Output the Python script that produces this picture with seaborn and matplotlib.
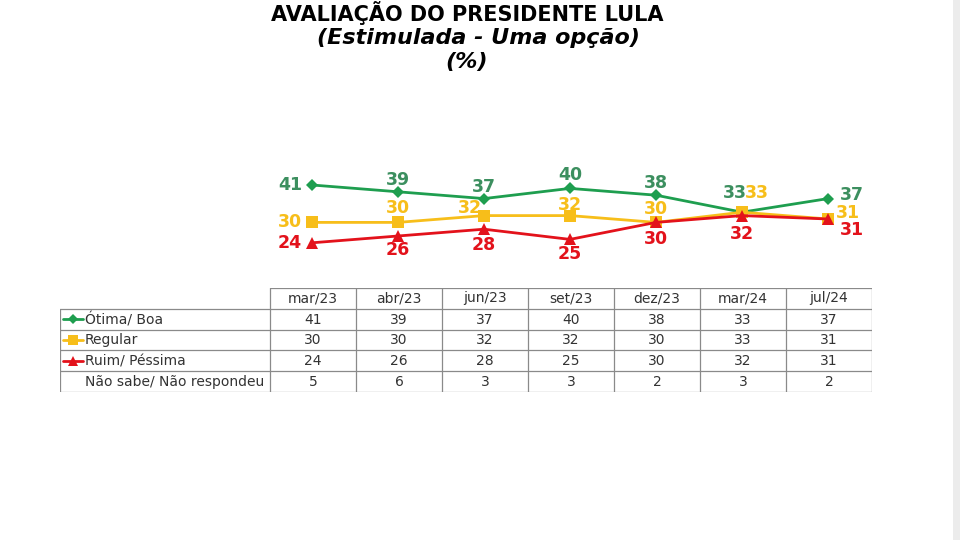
import matplotlib
matplotlib.use("Agg")
import matplotlib.pyplot as plt
import seaborn as sns
import pandas as pd
from matplotlib.patches import Rectangle

sns.set_theme(style="white")
plt.rcParams['font.family'] = ['DejaVu Sans']

months = ["mar/23", "abr/23", "jun/23", "set/23", "dez/23", "mar/24", "jul/24"]
otima_boa = [41, 39, 37, 40, 38, 33, 37]
regular = [30, 30, 32, 32, 30, 33, 31]
ruim_pessima = [24, 26, 28, 25, 30, 32, 31]
nao_sabe = [5, 6, 3, 3, 2, 3, 2]

series_names = ["Ótima/ Boa", "Regular", "Ruim/ Péssima"]
row_labels = ["Ótima/ Boa", "Regular", "Ruim/ Péssima", "Não sabe/ Não respondeu"]

GREEN = "#1E9E4F"
GREEN_TXT = "#3C8F5F"
YELLOW = "#F7BE1A"
RED = "#E3121B"
colors = [GREEN, YELLOW, RED]
txt_colors = [GREEN_TXT, YELLOW, RED]
markers = ["D", "s", "^"]
msizes = [6, 8, 8]

# label offsets in pixels (dx, dy), per series and point
label_offsets = [
    [(-22, 0), (0, 12), (0, 12), (0, 13), (0, 12), (-7, 19), (24, 4)],
    [(-22, 0), (0, 14), (-14, 8), (0, 11), (0, 13), (15, 19), (20, 6)],
    [(-22, 0), (0, -14), (0, -16), (0, -15), (0, -17), (0, -18), (24, -11)],
]

W, H = 960, 540
fig = plt.figure(figsize=(9.6, 5.4), dpi=100)
fig.patch.set_facecolor("white")

def fbox(x0, y0, x1, y1):
    return [x0 / W, 1 - y1 / H, (x1 - x0) / W, (y1 - y0) / H]

# Titles
fig.text(467 / W, 1 - 13 / H, "AVALIAÇÃO DO PRESIDENTE LULA", ha="center", va="center",
         fontsize=15, fontweight="bold", color="black")
fig.text(478 / W, 1 - 38 / H, "(Estimulada - Uma opção)", ha="center", va="center",
         fontsize=16, fontweight="bold", fontstyle="italic", color="black")
fig.text(467 / W, 1 - 62 / H, "(%)", ha="center", va="center",
         fontsize=16, fontweight="bold", fontstyle="italic", color="black")

# Line chart
ax = fig.add_axes(fbox(269, 160, 871, 270))
df = pd.DataFrame({
    "idx": list(range(len(months))) * 3,
    "value": otima_boa + regular + ruim_pessima,
    "serie": [series_names[0]] * 7 + [series_names[1]] * 7 + [series_names[2]] * 7,
})
for k, name in enumerate(series_names):
    sub = df[df["serie"] == name]
    sns.lineplot(data=sub, x="idx", y="value", ax=ax, color=colors[k], linewidth=2,
                 marker=markers[k], markersize=msizes[k], markeredgewidth=0,
                 legend=False, zorder=3 + k)
ax.set_xlim(-0.5, 6.5)
ax.set_ylim(16, 48.35)
ax.axis("off")

vals = [otima_boa, regular, ruim_pessima]
for k in range(3):
    for i, v in enumerate(vals[k]):
        dx, dy = label_offsets[k][i]
        ax.annotate(str(v), (i, v), xytext=(dx, dy), textcoords="offset pixels",
                    ha="center", va="center", color=txt_colors[k],
                    fontsize=12.5, fontweight="bold", zorder=10)

# Table
tx0, tx1 = 60, 872
ty0, ty1 = 288, 392
tab = fig.add_axes(fbox(tx0, ty0, tx1, ty1))
tab.set_xlim(0, tx1 - tx0)
tab.set_ylim(5, 0)
tab.axis("off")
lab_w = 210
col_w = (tx1 - tx0 - lab_w) / len(months)
lc = "#8a8a8a"
lw = 0.9
tab.plot([lab_w, tx1 - tx0], [0, 0], color=lc, lw=lw)
for r in range(1, 6):
    tab.plot([0, tx1 - tx0], [r, r], color=lc, lw=lw)
tab.plot([0, 0], [1, 5], color=lc, lw=lw)
for c in range(len(months) + 1):
    x = lab_w + c * col_w
    tab.plot([x, x], [0, 5], color=lc, lw=lw)

tcol = "#333333"
tfs = 10
for c, m in enumerate(months):
    tab.text(lab_w + (c + 0.5) * col_w, 0.5, m, ha="center", va="center", fontsize=tfs, color=tcol)
all_rows = [otima_boa, regular, ruim_pessima, nao_sabe]
for r, (lab, row) in enumerate(zip(row_labels, all_rows)):
    yc = r + 1.5
    tab.text(25, yc + 0.02, lab, ha="left", va="center", fontsize=tfs, color=tcol)
    if r < 3:
        tab.plot([3, 23], [yc, yc], color=colors[r], lw=2)
        tab.plot([13], [yc], color=colors[r], marker=markers[r],
                 markersize=[5, 7, 7][r], markeredgewidth=0)
    for c, v in enumerate(row):
        tab.text(lab_w + (c + 0.5) * col_w, yc + 0.02, str(v), ha="center", va="center",
                 fontsize=tfs, color=tcol)

# Right-side gray band (screenshot edge)
fig.patches.append(Rectangle((953 / W, 0), 7 / W, 1, transform=fig.transFigure,
                             facecolor="#ececec", edgecolor="none", zorder=0))

fig.savefig("out.png", dpi=100, facecolor="white")
